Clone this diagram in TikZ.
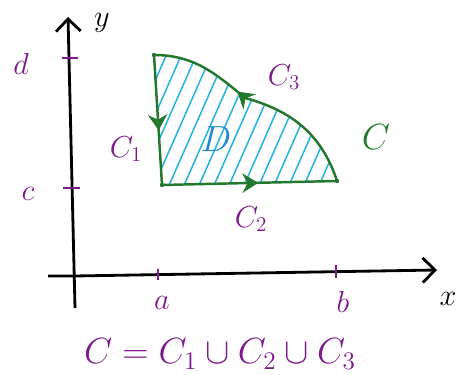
\documentclass[tikz,border=0pt]{standalone}
\usepackage{amsmath, amssymb}
\usepackage{tikz}
\usepackage{xcolor}
\usetikzlibrary{arrows.meta,decorations.markings}
\definecolor{labpurple}{RGB}{125,25,140}
\definecolor{curvegreen}{RGB}{35,120,45}
\definecolor{hatchblue}{RGB}{45,180,225}
\definecolor{regblue}{RGB}{30,140,210}
\tikzset{
  axis/.style={line width=1.6pt,-{Straight Barb[length=7pt,width=14pt,line width=1.6pt]}},
  tick/.style={labpurple,line width=1.2pt},
  lab/.style={labpurple,font=\LARGE},
  bdry/.style={curvegreen,line width=1.4pt},
  midarrow/.style={postaction={decorate},decoration={markings,
      mark=at position #1 with {\arrow{Stealth[length=9pt,width=11pt]}}}}
}
\begin{document}
\begin{tikzpicture}[x=0.02cm,y=0.02cm]
      \useasboundingbox (0,0) rectangle (457,375);
      \coordinate (O) at (75,99);
      \coordinate (xend) at (437,105);
      \coordinate (yend) at (68,358);
      \coordinate (xstart) at (48,99);
      \coordinate (ystart) at (75,67);
      \draw [axis] (xstart) -- (O) -- (xend);
      \draw [axis] (ystart) -- (yend);
      \draw [tick] (62,317) -- (78,317);
      \draw [tick] (63,187) -- (80,187);
      \draw [tick] (158,106) -- (158,95);
      \draw [tick] (336,110) -- (336,97);
      \node [lab] (d) at (21,311) {$d$};
      \node [lab] (c) at (28,181) {$c$};
      \node [lab] (a) at (162,72) {$a$};
      \node [lab] (b) at (343,73) {$b$};
      \node [font=\LARGE] (ylab) at (102,352) {$y$};
      \node [font=\LARGE] (xlab) at (448,76) {$x$};
      \coordinate (P) at (154,320);
      \coordinate (Q) at (162,190);
      \coordinate (R) at (337,194);
      \coordinate (M) at (245,277);
      \begin{scope}
        \clip (P) -- (Q) -- (R) to[out=108,in=-15] (M) to[out=140,in=0] (P) -- cycle;
        \foreach \s in {92,107,...,370}{
          \draw [hatchblue,line width=0.9pt] (\s,185) -- ++(66,150);
        }
      \end{scope}
      \draw [bdry,midarrow=0.58] (P) -- (Q);
      \draw [bdry,midarrow=0.55] (Q) -- (R);
      \draw [bdry,midarrow=0.6] (R) to[out=108,in=-15] (M) to[out=140,in=0] (P);
      \foreach \v in {P,Q,R}{
        \fill [curvegreen] (\v) circle (2.2);
      }
      \node [lab] (C1) at (126,226) {$C_1$};
      \node [lab] (C2) at (251,156) {$C_2$};
      \node [lab] (C3) at (284,298) {$C_3$};
      \node [regblue,font=\huge] (D) at (216,236) {$D$};
      \node [curvegreen,font=\huge] (C) at (376,238) {$C$};
      \node [lab,font=\huge] (union) at (220,21) {$C = C_1 \cup C_2 \cup C_3$};
    \end{tikzpicture}
\end{document}
